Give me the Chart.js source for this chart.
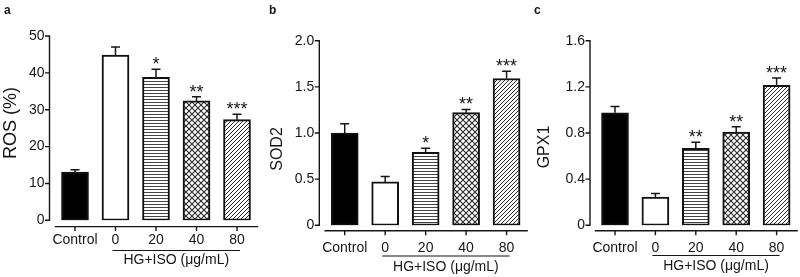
<!DOCTYPE html>
<html>
<head>
<meta charset="utf-8">
<script src="https://cdn.jsdelivr.net/npm/chart.js@4.4.0/dist/chart.umd.min.js"></script>
<style>
  html, body { margin: 0; padding: 0; background: #fff; }
  #wrap { position: relative; width: 800px; height: 277px; overflow: hidden; }
  .panel { position: absolute; top: 0; height: 277px; }
</style>
</head>
<body>
<div id="wrap">
  <div class="panel" style="left:0px;width:265px"><canvas id="chartA" width="265" height="277"></canvas></div>
  <div class="panel" style="left:265px;width:265px"><canvas id="chartB" width="265" height="277"></canvas></div>
  <div class="panel" style="left:530px;width:270px"><canvas id="chartC" width="270" height="277"></canvas></div>
</div>
<script>
// data
const categories = ["Control", "0", "20", "40", "80"];
const rosMean = [13.1, 44.8, 38.8, 32.4, 27.3];
const rosErr = [0.6, 2.2, 2.2, 1.1, 1.5];
const rosStars = ["", "", "*", "**", "***"];
const rosTicks = [0, 10, 20, 30, 40, 50];

const sod2Mean = [1.0, 0.47, 0.79, 1.22, 1.59];
const sod2Err = [0.1, 0.06, 0.045, 0.035, 0.08];
const sod2Stars = ["", "", "*", "**", "***"];
const sod2Ticks = [0, 0.5, 1.0, 1.5, 2.0];

const gpx1Mean = [0.975, 0.245, 0.667, 0.808, 1.213];
const gpx1Err = [0.055, 0.03, 0.053, 0.046, 0.063];
const gpx1Stars = ["", "", "**", "**", "***"];
const gpx1Ticks = [0, 0.4, 0.8, 1.2, 1.6];

const groupLabel = "HG+ISO (μg/mL)";
const FONT = "'Liberation Sans', Arial, sans-serif";
const INK = "#161616";

// fill patterns
function makePattern(size, draw) {
  let c = document.createElement("canvas");
  c.width = size;
  c.height = size;
  let g = c.getContext("2d");
  g.fillStyle = "#fff";
  g.fillRect(0, 0, size, size);
  g.strokeStyle = "#2a2a2a";
  draw(g, size);
  return g.createPattern(c, "repeat");
}
const hLines = makePattern(3, function (g, s) {
  g.fillStyle = "#444";
  g.fillRect(0, 0, s, 1);
});
const crossHatch = makePattern(6, function (g, s) {
  g.lineWidth = 1.1;
  g.beginPath();
  g.moveTo(0, 0); g.lineTo(s, s);
  g.moveTo(0, s); g.lineTo(s, 0);
  g.stroke();
});
const diagHatch = makePattern(4, function (g, s) {
  g.lineWidth = 1;
  g.beginPath();
  g.moveTo(0, s); g.lineTo(s, 0);
  g.moveTo(-1, 1); g.lineTo(1, -1);
  g.moveTo(s - 1, s + 1); g.lineTo(s + 1, s - 1);
  g.stroke();
});
const fills = ["#000", "#fff", hLines, crossHatch, diagHatch];

// axes, error bars, stars and labels drawn on top of the bars
const decoPlugin = {
  id: "deco",
  afterDraw(chart, args, o) {
    let ctx = chart.ctx;
    let xs = chart.scales.x;
    let ys = chart.scales.y;
    let ca = chart.chartArea;
    ctx.save();
    ctx.strokeStyle = INK;
    ctx.fillStyle = INK;
    ctx.lineWidth = 1.4;

    // y axis line + ticks
    let yTop = ys.getPixelForValue(o.ticks[o.ticks.length - 1]);
    let y0 = ys.getPixelForValue(0);
    ctx.beginPath();
    ctx.moveTo(o.axisX, yTop - 0.7);
    ctx.lineTo(o.axisX, y0 + 0.7);
    o.ticks.forEach(function (t) {
      let py = ys.getPixelForValue(t);
      ctx.moveTo(o.axisX - 4.5, py);
      ctx.lineTo(o.axisX, py);
    });
    // x axis line + ticks
    let xa = y0 + o.xGap;
    ctx.moveTo(ca.left, xa);
    ctx.lineTo(ca.right + 1, xa);
    categories.forEach(function (c, i) {
      let px = xs.getPixelForValue(i);
      ctx.moveTo(px, xa);
      ctx.lineTo(px, xa + 4.5);
    });
    ctx.stroke();

    // error bars and stars
    let meta = chart.getDatasetMeta(0);
    ctx.lineWidth = 1.5;
    ctx.textAlign = "center";
    ctx.textBaseline = "alphabetic";
    ctx.font = "18px " + FONT;
    meta.data.forEach(function (bar, i) {
      let top = ys.getPixelForValue(o.mean[i]);
      let cap = ys.getPixelForValue(o.mean[i] + o.err[i]);
      ctx.beginPath();
      ctx.moveTo(bar.x, top);
      ctx.lineTo(bar.x, cap);
      ctx.moveTo(bar.x - 4.5, cap);
      ctx.lineTo(bar.x + 4.5, cap);
      ctx.stroke();
      if (o.stars[i]) {
        ctx.fillText(o.stars[i], bar.x, cap + 1);
      }
    });

    // group underline + label
    ctx.lineWidth = 1.2;
    ctx.beginPath();
    ctx.moveTo(xs.getPixelForValue(1) - 3, o.lineY);
    ctx.lineTo(xs.getPixelForValue(4) + 3, o.lineY);
    ctx.stroke();
    ctx.font = "14px " + FONT;
    ctx.textBaseline = "middle";
    ctx.fillText(groupLabel, (xs.getPixelForValue(1) + xs.getPixelForValue(4)) / 2, o.groupY);

    // panel letter
    ctx.font = "bold 12px " + FONT;
    ctx.textAlign = "left";
    ctx.textBaseline = "alphabetic";
    ctx.fillText(o.letter, 4, 13.5);

    // y title
    ctx.font = o.titleSize + "px " + FONT;
    ctx.translate(o.titleX, o.titleY);
    ctx.rotate(-Math.PI / 2);
    ctx.textAlign = "center";
    ctx.textBaseline = "middle";
    ctx.fillText(o.title, 0, 0);
    ctx.restore();
  },
};

function makePanel(id, p) {
  let canvas = document.getElementById(id);
  return new Chart(canvas.getContext("2d"), {
    type: "bar",
    data: {
      labels: categories,
      datasets: [
        {
          data: p.mean,
          backgroundColor: fills,
          borderColor: "#111",
          borderWidth: 2,
          borderSkipped: false,
          barThickness: 27,
        },
      ],
    },
    options: {
      responsive: false,
      animation: false,
      layout: { padding: { top: p.top, right: p.width - p.right, left: 0, bottom: 0 } },
      plugins: {
        legend: { display: false },
        tooltip: { enabled: false },
        deco: p,
      },
      scales: {
        x: {
          grid: { display: false, drawTicks: false },
          border: { display: false },
          ticks: {
            autoSkip: false,
            maxRotation: 0,
            padding: p.labelPad,
            color: INK,
            font: { family: FONT, size: 14 },
          },
          afterFit: function (s) { s.height = 277 - p.bottom; },
        },
        y: {
          min: 0,
          max: p.ticks[p.ticks.length - 1],
          grid: { display: false, drawTicks: false },
          border: { display: false },
          afterBuildTicks: function (s) {
            s.ticks = p.ticks.map(function (v) { return { value: v }; });
          },
          ticks: {
            padding: p.left - p.axisX + 5,
            color: INK,
            font: { family: FONT, size: 14 },
            callback: function (v) { return v === 0 ? "0" : v.toFixed(p.dec); },
          },
          afterFit: function (s) { s.width = p.left; },
        },
      },
    },
    plugins: [decoPlugin],
  });
}

makePanel("chartA", {
  mean: rosMean, err: rosErr, stars: rosStars, ticks: rosTicks, dec: 0,
  width: 265, left: 54.75, right: 257.25, top: 36, bottom: 220.3,
  axisX: 49.5, xGap: 6.3, labelPad: 11.5, lineY: 250.5, groupY: 260.5,
  letter: "a", title: "ROS (%)", titleX: 11.5, titleY: 123, titleSize: 18,
});
makePanel("chartB", {
  mean: sod2Mean, err: sod2Err, stars: sod2Stars, ticks: sod2Ticks, dec: 1,
  width: 265, left: 59.5, right: 261.8, top: 40.7, bottom: 225.3,
  axisX: 54.3, xGap: 5.5, labelPad: 14.5, lineY: 256, groupY: 267,
  letter: "b", title: "SOD2", titleX: 13, titleY: 149, titleSize: 16,
});
makePanel("chartC", {
  mean: gpx1Mean, err: gpx1Err, stars: gpx1Stars, ticks: gpx1Ticks, dec: 1,
  width: 270, left: 64.8, right: 266.8, top: 40.7, bottom: 225.3,
  axisX: 60, xGap: 5.5, labelPad: 14.5, lineY: 255.5, groupY: 266,
  letter: "c", title: "GPX1", titleX: 14.5, titleY: 147, titleSize: 16,
});
</script>
</body>
</html>
